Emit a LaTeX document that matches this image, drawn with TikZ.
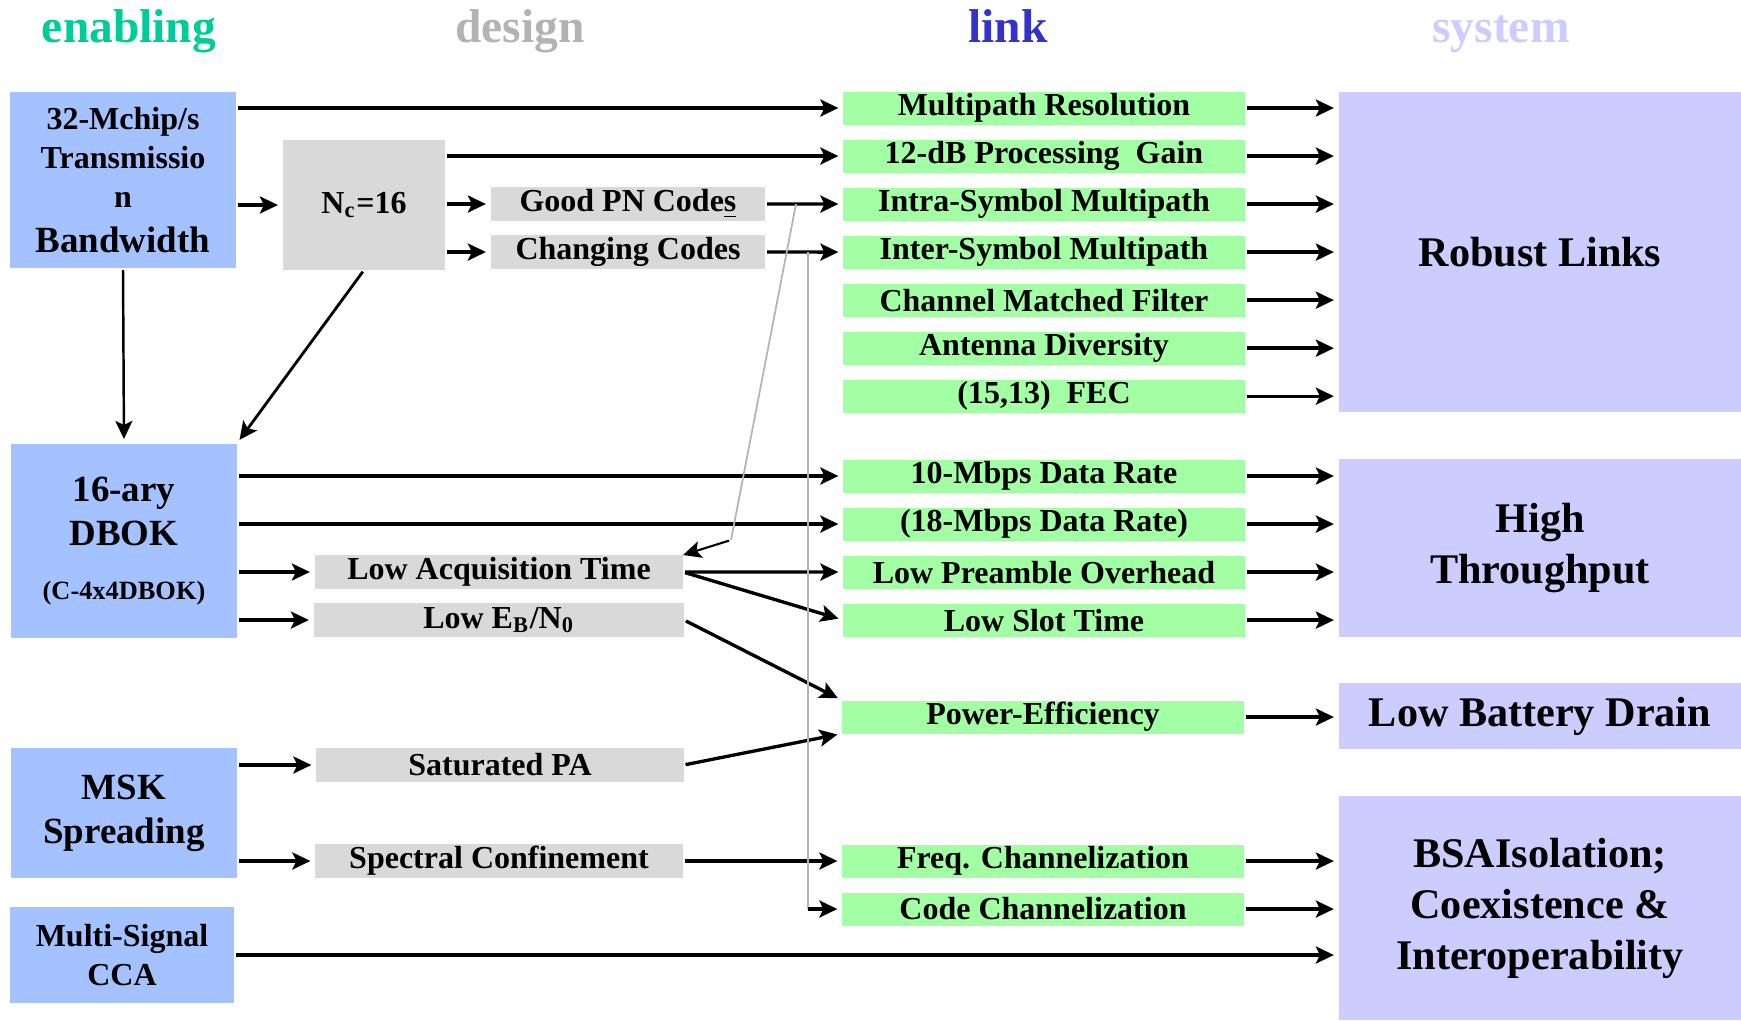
\documentclass[tikz,border=0pt]{standalone}
\usepackage{fontspec}
\setmainfont{Liberation Serif}
\usetikzlibrary{arrows.meta,positioning}

\definecolor{enabc}{HTML}{A3C2FF}
\definecolor{dsgnc}{HTML}{D9D9D9}
\definecolor{lnkc}{HTML}{A3FFA3}
\definecolor{sysc}{HTML}{CCCCFF}
\definecolor{hdenab}{HTML}{00CC99}
\definecolor{hddsgn}{HTML}{B3B3B3}
\definecolor{hdlnk}{HTML}{3333CC}
\definecolor{leadc}{HTML}{B4B4B4}

\newcommand{\fsS}{\fontsize{7.5pt}{9pt}\selectfont}
\newcommand{\fsA}{\fontsize{9.1pt}{11.1pt}\selectfont}
\newcommand{\fsB}{\fontsize{10.5pt}{12.5pt}\selectfont}
\newcommand{\fsC}{\fontsize{12pt}{14.5pt}\selectfont}
\newcommand{\fsH}{\fontsize{13.5pt}{16pt}\selectfont}

\begin{document}
\begin{tikzpicture}[x=0.01cm, y=-0.01cm, node distance=0.48cm,
		box/.style={inner sep=0pt, outer sep=0pt, align=center, font=\bfseries\fsA},
		enab/.style={box, fill=enabc, minimum width=2.25cm},
		dsgn/.style={box, fill=dsgnc, minimum height=0.34cm},
		lnk/.style={box, fill=lnkc, minimum width=4.01cm, minimum height=0.33cm},
		sys/.style={box, fill=sysc, minimum width=4.02cm, font=\bfseries\fsC},
		hdr/.style={anchor=base, font=\bfseries\fsH},
		arr/.style={-{Stealth[length=0.18cm, width=0.17cm, inset=0.04cm]}, line width=0.95pt, shorten >=0.05cm, shorten <=0.02cm},
		lead/.style={draw=leadc, line width=0.5pt}]
		\useasboundingbox (0,0) rectangle (1741,1020);

		\node (h1)[hdr, text=hdenab] at (129,42) {enabling};
		\node (h2)[hdr, text=hddsgn] at (520,42) {design};
		\node (h3)[hdr, text=hdlnk] at (1008,42) {link};
		\node (h4)[hdr, text=sysc] at (1501,42) {system};

		\node (e1)[enab, minimum height=1.76cm] at (123,180) {32-Mchip/s\\Transmissio\\n\\[1.5pt]{\fsB Bandwidth}};
		\node (e2)[enab, minimum height=1.94cm, font=\bfseries\fsB] at (124,541) {16-ary\\DBOK\\[3pt]{\fsS (C-4x4DBOK)}};
		\node (e3)[enab, minimum height=1.30cm, font=\bfseries\fsB] at (124,813) {MSK\\Spreading};
		\node (e4)[enab, minimum width=2.23cm, minimum height=0.95cm] at (122,955) {Multi-Signal\\CCA};

		\node (d1)[dsgn, minimum width=1.62cm, minimum height=1.30cm] at (364,205) {N\textsubscript{c}=16};
		\node (d2)[dsgn, minimum width=2.74cm] at (628,204) {Good PN Code\underline{s}};
		\node (d3)[dsgn, minimum width=2.74cm, below of = d2] {Changing Codes};
		\node (d4)[dsgn, minimum width=3.68cm] at (499,572) {Low Acquisition Time};
		\node (d5)[dsgn, minimum width=3.70cm, below of = d4] {Low E\textsubscript{B}/N\textsubscript{0}};
		\node (d6)[dsgn, minimum width=3.67cm] at (500,765) {Saturated PA};
		\node (d7)[dsgn, minimum width=3.67cm] at (499,861) {Spectral Confinement};

		\node (l1)[lnk] at (1044,108) {Multipath Resolution};
		\node (l2)[lnk, below of = l1] {12-dB Processing~ Gain};
		\node (l3)[lnk, below of = l2] {Intra-Symbol Multipath};
		\node (l4)[lnk, below of = l3] {Inter-Symbol Multipath};
		\node (l5)[lnk, below of = l4] {Channel Matched Filter};
		\node (l6)[lnk, below of = l5] {Antenna Diversity};
		\node (l7)[lnk, below of = l6] {(15,13)~ FEC};

		\node (l8)[lnk] at (1044,476) {10-Mbps Data Rate};
		\node (l9)[lnk, below of = l8] {(18-Mbps Data Rate)};
		\node (l10)[lnk, below of = l9] {Low Preamble Overhead};
		\node (l11)[lnk, below of = l10] {Low Slot Time};
		\node (l12)[lnk] at (1043,717) {Power-Efficiency};
		\node (l13)[lnk] at (1043,861) {Freq. Channelization};
		\node (l14)[lnk, below of = l13] {Code Channelization};

		\node (s1)[sys, minimum height=3.20cm] at (1540,252) {Robust Links};
		\node (s2)[sys, minimum height=1.77cm] at (1540,548) {High\\Throughput};
		\node (s3)[sys, minimum height=0.65cm] at (1540,716) {Low Battery Drain};
		\node (s4)[sys, minimum height=2.24cm] at (1540,908) {BSAIsolation;\\Coexistence \&\\Interoperability};

		\draw [arr](e1.east |- l1.west) -- (l1.west);
		\draw [arr](e1.east |- d1.west) -- (d1.west);
		\draw [arr, line width=0.7pt](e1.south) -- (e2.north);
		\draw [arr, line width=0.8pt](d1.south) -- (e2.north east);
		\draw [arr](d1.east |- l2.west) -- (l2.west);
		\draw [arr](d1.east |- d2.west) -- (d2.west);
		\draw [arr](d1.east |- d3.west) -- (d3.west);
		\draw [arr](d2.east) -- (l3.west);
		\draw [arr](d3.east) -- (l4.west);

		\draw [arr](l1.east) -- (l1.east -| s1.west);
		\draw [arr](l2.east) -- (l2.east -| s1.west);
		\draw [arr](l3.east) -- (l3.east -| s1.west);
		\draw [arr](l4.east) -- (l4.east -| s1.west);
		\draw [arr](l5.east) -- (l5.east -| s1.west);
		\draw [arr](l6.east) -- (l6.east -| s1.west);
		\draw [arr](l7.east) -- (l7.east -| s1.west);

		\draw [arr](e2.east |- l8.west) -- (l8.west);
		\draw [arr](e2.east |- l9.west) -- (l9.west);
		\draw [arr](e2.east |- d4.west) -- (d4.west);
		\draw [arr](e2.east |- d5.west) -- (d5.west);
		\draw [arr](d4.east) -- (l10.west);
		\draw [arr](d4.east) -- (l11.west);
		\draw [arr](d5.east) -- (l12.north west);

		\draw [arr](l8.east) -- (l8.east -| s2.west);
		\draw [arr](l9.east) -- (l9.east -| s2.west);
		\draw [arr](l10.east) -- (l10.east -| s2.west);
		\draw [arr](l11.east) -- (l11.east -| s2.west);
		\draw [arr](l12.east) -- (l12.east -| s3.west);

		\draw [arr](e3.east |- d6.west) -- (d6.west);
		\draw [arr](e3.east |- d7.west) -- (d7.west);
		\draw [arr](d6.east) -- (l12.south west);
		\draw [arr](d7.east) -- (l13.west);
		\draw [arr](l13.east) -- (l13.east -| s4.west);
		\draw [arr](l14.east) -- (l14.east -| s4.west);
		\draw [arr](e4.east) -- (e4.east -| s4.west);

		% grey leaders from the code boxes
		\coordinate (g1) at (796,204);
		\coordinate (g2) at (731,540);
		\draw [lead](g1) -- (g2);
		\draw [arr, line width=0.6pt, shorten >=0pt](g2) -- (d4.north east);
		\coordinate (g3) at (808,252);
		\coordinate (g4) at (g3 |- l14.west);
		\draw [lead](g3) -- (g4);
		\draw [arr, shorten <=0pt](g4) -- (l14.west);
	\end{tikzpicture}
\end{document}
